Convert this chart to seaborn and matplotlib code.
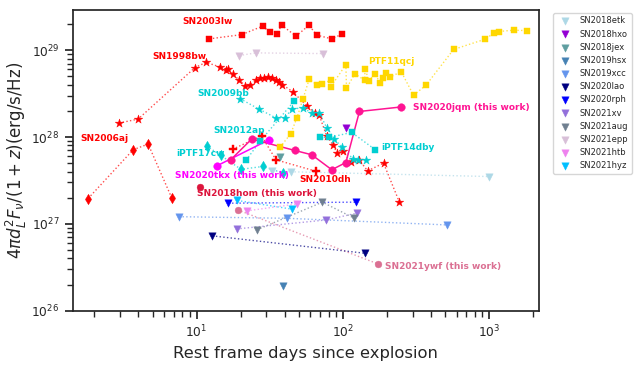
import matplotlib
matplotlib.use("Agg")
import matplotlib.pyplot as plt
import seaborn as sns

# radio light curves: rest frame days, 4 pi d^2 F_nu / (1+z) in erg/s/Hz
sn2003lw_days = [12.2, 20.3, 28.3, 31.8, 35.5, 38.2, 47.9, 58.7, 66.4, 84.1, 99.3]
sn2003lw_lum = [1.35e29, 1.51e29, 1.89e29, 1.61e29, 1.55e29, 1.94e29, 1.45e29, 1.94e29, 1.49e29, 1.35e29, 1.54e29]

sn1998bw_days = [2.95, 3.98, 9.74, 11.6, 14.4, 15.8, 16.5, 17.6, 19.5, 21.5, 23.3, 25.6, 27.1, 28.9,
                 30.9, 32.9, 34.9, 36.8, 38.6, 45.4, 57.3, 64.6, 68.8, 77.7, 86.2, 91.4, 99.7, 113.5,
                 129, 148, 190, 244]
sn1998bw_lum = [1.45e28, 1.61e28, 6.30e28, 7.25e28, 6.42e28, 5.97e28, 6.02e28, 5.27e28, 4.58e28, 3.87e28,
                3.94e28, 4.50e28, 4.74e28, 4.83e28, 4.87e28, 4.83e28, 4.50e28, 4.31e28, 4.01e28, 3.33e28,
                2.25e28, 1.89e28, 1.81e28, 1.02e28, 8.04e27, 6.50e27, 6.95e27, 5.12e27, 5.47e27, 4.08e27,
                5.01e27, 1.78e27]

sn2006aj_days = [1.81, 3.68, 4.66, 6.74]
sn2006aj_lum = [1.96e27, 7.14e27, 8.30e27, 2.01e27]

sn2009bb_days = [19.8, 26.8, 34.9, 40.3, 44.6, 53.5, 61.3, 69.2, 77.7, 87.1, 98.2, 118, 128, 144]
sn2009bb_lum = [2.77e28, 2.09e28, 1.66e28, 1.66e28, 2.09e28, 2.18e28, 1.88e28, 1.88e28, 1.28e28,
                9.56e27, 7.73e27, 5.55e27, 5.47e27, 5.47e27]

sn2012ap_days = [21.8, 27.1, 46.6]
sn2012ap_lum = [5.40e27, 8.90e27, 2.60e28]

iptf14dby_days = [69.9, 80.6, 115, 167]
iptf14dby_lum = [9.89e27, 9.89e27, 1.13e28, 7.14e27]

iptf17cw_days = [11.7, 14.6, 20.1, 28.3, 38.7]
iptf17cw_lum = [7.90e27, 6.17e27, 4.25e27, 4.58e27, 3.88e27]

ptf11qcj_days = [37.2, 44.0, 48.6, 53.5, 59.0, 66.4, 72.5, 82.7, 82.7, 105, 106, 121, 141, 142, 151,
                 166, 180, 187, 196, 209, 251, 305, 372, 573, 944, 1077, 1165, 1474, 1829]
ptf11qcj_lum = [7.62e27, 1.09e28, 1.67e28, 2.77e28, 4.67e28, 3.98e28, 4.12e28, 4.50e28, 3.78e28,
                6.82e28, 3.64e28, 5.37e28, 4.50e28, 6.14e28, 4.43e28, 5.37e28, 4.20e28, 4.74e28,
                5.47e28, 4.87e28, 5.66e28, 3.02e28, 3.98e28, 1.02e29, 1.34e29, 1.57e29, 1.64e29,
                1.70e29, 1.68e29]

sn2010dh_days = [17.6, 27.8, 34.9, 65.7]
sn2010dh_lum = [7.23e27, 1.03e28, 5.47e27, 4.03e27]

# this work
sn2020tkx_days = [13.8, 31.3]
sn2020tkx_lum = [4.67e27, 9.31e27]

sn2020jqm_days = [17.1, 23.8, 47.1, 61.3, 84.1, 105, 130, 251]
sn2020jqm_lum = [5.47e27, 9.48e27, 7.00e27, 6.25e27, 4.20e27, 5.09e27, 1.97e28, 2.22e28]

sn2018hom_days = [10.6]
sn2018hom_lum = [2.69e27]

sn2021ywf_days = [19.1, 174]
sn2021ywf_lum = [1.45e27, 3.46e26]

# upper limits (triangles)
limit_names = ["SN2018etk", "SN2018hxo", "SN2018jex", "SN2019hsx", "SN2019xcc", "SN2020lao",
               "SN2020rph", "SN2021xv", "SN2021aug", "SN2021epp", "SN2021htb", "SN2021hyz"]
limit_days = [
    [33.0, 44.5, 993],
    [105],
    [37.2],
    [38.8],
    [7.56, 41.3, 515],
    [12.8, 142],
    [16.5, 123],
    [18.8, 76.9, 125],
    [25.8, 72.5, 120],
    [19.5, 25.4, 73.6],
    [22.0, 48.9],
    [19.0, 44.7],
]
limit_lum = [
    [4.06e27, 3.98e27, 3.51e27],
    [1.26e28],
    [5.93e27],
    [1.93e26],
    [1.21e27, 1.16e27, 9.73e26],
    [7.28e26, 4.59e26],
    [1.73e27, 1.78e27],
    [8.75e26, 1.11e27, 1.33e27],
    [8.53e26, 1.78e27, 1.16e27],
    [8.67e28, 9.31e28, 9.14e28],
    [1.41e27, 1.70e27],
    [1.86e27, 1.48e27],
]
limit_colors = ["lightblue", "darkviolet", "cadetblue", "steelblue", "cornflowerblue", "navy",
                "blue", "mediumpurple", "slategray", "thistle", "violet", "deepskyblue"]

sns.set_theme(style="ticks")
plt.rcParams['font.family'] = ['DejaVu Sans']
plt.rcParams['mathtext.fontset'] = 'dejavusans'

fig = plt.figure(figsize=(6.4, 3.66), dpi=100)
ax = fig.add_axes([0.1136, 0.151, 0.7286, 0.8216])
ax.set(xscale='log', yscale='log')


def draw(days, lum, color, marker, size, ls=':', lw=1.0, alpha=0.7, label=None):
    if len(days) > 1:
        sns.lineplot(x=days, y=lum, color=color, linestyle=ls, lw=lw, alpha=alpha,
                     sort=False, estimator=None, ax=ax)
    sns.scatterplot(x=days, y=lum, color=color, marker=marker, s=size, edgecolor=color,
                    linewidth=0.3, label=label, ax=ax, zorder=3)


draw(sn2003lw_days, sn2003lw_lum, 'red', 's', 14)
draw(sn1998bw_days, sn1998bw_lum, 'red', '*', 42)
draw(sn2006aj_days, sn2006aj_lum, 'red', 'd', 28)
draw(sn2010dh_days, sn2010dh_lum, 'red', 'P', 28)
draw(sn2009bb_days, sn2009bb_lum, 'darkturquoise', '*', 42)
draw(sn2012ap_days, sn2012ap_lum, 'darkturquoise', 's', 14)
draw(iptf14dby_days, iptf14dby_lum, 'darkturquoise', 's', 14)
draw(iptf17cw_days, iptf17cw_lum, 'darkturquoise', 'd', 28)
draw(ptf11qcj_days, ptf11qcj_lum, 'gold', 's', 14)
draw(sn2021ywf_days, sn2021ywf_lum, 'palevioletred', 'o', 24)
draw(sn2018hom_days, sn2018hom_lum, 'crimson', 'o', 24)
draw(sn2020tkx_days, sn2020tkx_lum, 'magenta', 'o', 30, ls='-', lw=1.1, alpha=1)
draw(sn2020jqm_days, sn2020jqm_lum, 'deeppink', 'o', 30, ls='-', lw=1.1, alpha=1)

for name, d, l, c in zip(limit_names, limit_days, limit_lum, limit_colors):
    draw(d, l, c, 'v', 28, label=name)

labels = [
    ("SN2003lw", 8.0, 2.15e29, 'red'),
    ("SN1998bw", 5.0, 8.4e28, 'red'),
    ("SN2006aj", 1.6, 9.7e27, 'red'),
    ("SN2009bb", 10.1, 3.16e28, 'darkturquoise'),
    ("SN2012ap", 13.1, 1.18e28, 'darkturquoise'),
    ("iPTF17cw", 7.3, 6.4e27, 'darkturquoise'),
    ("iPTF14dby", 182, 7.5e27, 'darkturquoise'),
    ("PTF11qcj", 150, 7.4e28, 'gold'),
    ("SN2010dh", 50.5, 3.28e27, 'red'),
    ("SN2020tkx (this work)", 7.1, 3.58e27, 'magenta'),
    ("SN2018hom (this work)", 10.0, 2.22e27, 'crimson'),
    ("SN2020jqm (this work)", 301, 2.16e28, 'deeppink'),
    ("SN2021ywf (this work)", 195, 3.2e26, 'palevioletred'),
]
for text, tx, ty, c in labels:
    ax.text(tx, ty, text, color=c, fontsize=6.5, fontweight='bold', va='center', ha='left')

ax.set_xlim(1.42, 2200)
ax.set_ylim(1e26, 2.9e29)
ax.set_xlabel("Rest frame days since explosion", fontsize=11.8)
ax.set_ylabel(r"$4\pi d_L^2F_\nu/(1+z)$(erg/s/Hz)", fontsize=12, labelpad=2)
ax.tick_params(labelsize=8.8)

handles, names = ax.get_legend_handles_labels()
ax.legend(handles, names, loc='upper left', bbox_to_anchor=(1.03, 0.99), borderaxespad=0,
          fontsize=6, frameon=True)

fig.savefig("out.png", dpi=100)
